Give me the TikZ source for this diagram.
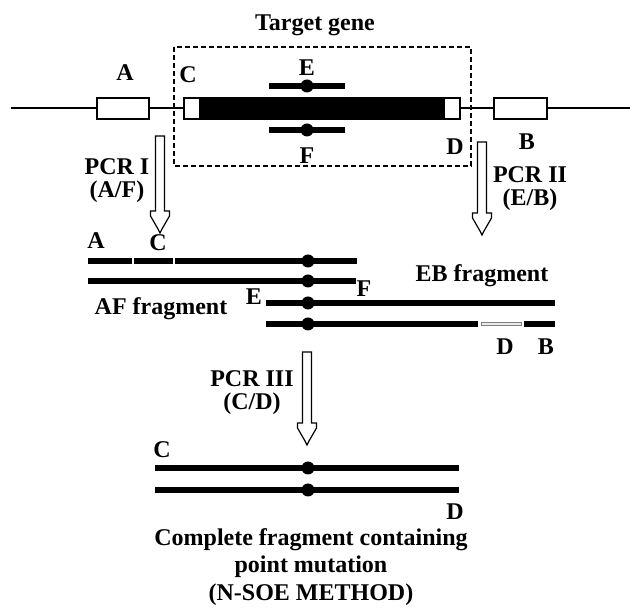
\documentclass[tikz,border=0pt]{standalone}
\usepackage{fontspec}
\setmainfont{Liberation Serif}
\usetikzlibrary{calc}

% hollow block arrow: x, top y, tip y
\newcommand{\pcrarrow}[3]{%
  \draw[hollow] (#1-4.5,#2) -- (#1-4.5,#3-22) -- (#1-9.5,#3-22) -- (#1-9.5,#3-17)
    -- (#1-2,#3-4) -- (#1,#3) -- (#1+2,#3-4) -- (#1+9.5,#3-17) -- (#1+9.5,#3-22)
    -- (#1+4.5,#3-22) -- (#1+4.5,#2) -- cycle;}

\begin{document}
\begin{tikzpicture}[x=1pt, y=-1pt,
  lbl/.style={font=\fontsize{24}{23}\selectfont\bfseries, inner sep=0pt, align=center},
  strand/.style={line width=5.5pt},
  thinline/.style={line width=1.4pt},
  exonbox/.style={draw, line width=1.4pt, fill=white},
  mut/.style={circle, fill=black, inner sep=0pt, minimum size=13pt},
  hollow/.style={draw, line width=1.2pt, fill=white, line join=miter}
]
  \useasboundingbox (0,0) rectangle (630,609);

  % Target gene on the chromosome
  \node[lbl] (title) at (315,25) {Target gene};
  \draw[dashed, line width=1.1pt, dash pattern=on 5pt off 3pt] (174,47) rectangle (471,166);
  \draw[thinline] (11,108) -- (630,108);
  \draw[exonbox] (97,98) rectangle (149,119);
  \draw[exonbox] (494,98) rectangle (547,119);
  \draw[exonbox] (184,98) rectangle (460,119);
  \fill (200,98) rectangle (444,119);
  \draw[thinline] (200,98) -- (200,119) (444,98) -- (444,119);

  % primers E and F
  \draw[strand] (269,86) -- (345,86);
  \node[mut] (mE) at (307,86) {};
  \draw[strand] (269,130) -- (345,130);
  \node[mut] (mF) at (307,130) {};

  \node[lbl] (pA) at (125,73) {A};
  \node[lbl] (pC) at (188,75) {C};
  \node[lbl] (pE) at (307,68) {E};
  \node[lbl] (pF) at (307,156) {F};
  \node[lbl] (pD) at (455,147) {D};
  \node[lbl] (pB) at (527,142) {B};

  % first round
  \pcrarrow{160}{136}{233}
  \node[lbl] (pcr1) at (117,181) {PCR I\\(A/F)};
  \pcrarrow{482}{142}{235}
  \node[lbl] (pcr2) at (530,189) {PCR II\\(E/B)};

  % AF fragment
  \draw[strand] (88,261) -- (357,261);
  \draw[white, line width=1.5pt] (133,257) -- (133,265) (174,257) -- (174,265);
  \draw[strand] (88,281) -- (356,281);
  \node[mut] (af1) at (308,261) {};
  \node[mut] (af2) at (308,281) {};
  \node[lbl] (afA) at (96,241) {A};
  \node[lbl] (afC) at (158,243) {C};
  \node[lbl] (afF) at (364,289) {F};
  \node[lbl] (afname) at (161,309) {AF fragment};

  % EB fragment
  \draw[strand] (266,303) -- (555,303);
  \draw[strand] (266,324) -- (555,324);
  \fill[white] (478,320) rectangle (524,328);
  \draw[gray, line width=0.8pt, fill=white!85!gray] (481,322.5) rectangle (521,325.5);
  \node[mut] (eb1) at (308,303) {};
  \node[mut] (eb2) at (308,324) {};
  \node[lbl] (ebE) at (254,297) {E};
  \node[lbl] (ebD) at (505,347) {D};
  \node[lbl] (ebB) at (546,347) {B};
  \node[lbl] (ebname) at (482,276) {EB fragment};

  % second round
  \pcrarrow{307}{352}{445}
  \node[lbl] (pcr3) at (252,393) {PCR III\\(C/D)};

  % complete fragment
  \draw[strand] (155,468) -- (459,468);
  \draw[strand] (155,490) -- (459,490);
  \node[mut] (cd1) at (308,468) {};
  \node[mut] (cd2) at (308,490) {};
  \node[lbl] (cdC) at (162,450) {C};
  \node[lbl] (cdD) at (455,512) {D};
  \node[lbl, font=\fontsize{24}{27.5}\selectfont\bfseries] (result) at (311,567)
    {Complete fragment containing\\point mutation\\(N-SOE METHOD)};
\end{tikzpicture}
\end{document}
